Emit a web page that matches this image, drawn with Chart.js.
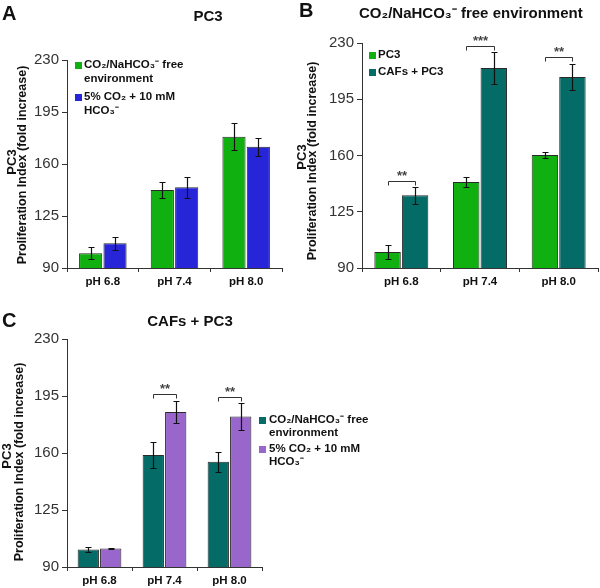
<!DOCTYPE html>
<html><head><meta charset="utf-8">
<script src="https://cdn.jsdelivr.net/npm/chart.js@4/dist/chart.umd.min.js"></script>
<style>
html,body{margin:0;padding:0;background:#fff}
body{width:600px;height:588px;position:relative;overflow:hidden}
canvas{position:absolute}
</style></head><body>
<canvas id="ca" width="300" height="290" style="left:0;top:0;width:300px;height:290px"></canvas>
<canvas id="cb" width="310" height="290" style="left:290px;top:0;width:310px;height:290px"></canvas>
<canvas id="cc" width="600" height="288" style="left:0;top:300px;width:600px;height:288px"></canvas>
<script>
const categories = ['pH 6.8', 'pH 7.4', 'pH 8.0'];
const yTicks = [90, 125, 160, 195, 230];

// Panel A : PC3
const aFree = [100.0, 142.5, 178.4];
const aFreeErr = [4.0, 5.2, 9.2];
const aCo2 = [106.6, 144.3, 171.6];
const aCo2Err = [4.2, 7.2, 6.0];

// Panel B : CO2/NaHCO3- free environment
const bPc3 = [100.0, 143.5, 160.3];
const bPc3Err = [4.2, 2.9, 2.1];
const bCafs = [135.3, 214.4, 208.8];
const bCafsErr = [5.2, 10.0, 8.1];
const bSigLevel = [144.1, 227.9, 221.3];
const bSigMark = ['**', '***', '**'];

// Panel C : CAFs + PC3
const cFree = [100.7, 158.8, 154.7];
const cFreeErr = [1.5, 8.2, 6.2];
const cCo2 = [101.3, 185.1, 182.4];
const cCo2Err = [0.5, 6.9, 8.2];
const cSigLevel = [null, 196.2, 194.3];
const cSigMark = ['', '**', '**'];

const labelFree = ['CO₂/NaHCO₃⁻ free', 'environment'];
const labelCo2 = ['5% CO₂ + 10 mM', 'HCO₃⁻'];
const labelPc3 = ['PC3'];
const labelCafs = ['CAFs + PC3'];
const yTitle = ['PC3', 'Proliferation Index (fold increase)'];
const titleA = 'PC3', titleB = 'CO₂/NaHCO₃⁻ free environment', titleC = 'CAFs + PC3';

const GREEN = '#10b010', BLUE = '#2626d8', TEAL = '#046b67', PURPLE = '#9966cc', EDGE = '#2a2a2a';
const FONT = "'Liberation Sans', Arial, Helvetica, sans-serif";

const errorBarPlugin = {
  id: 'errorBars',
  afterDatasetsDraw(chart) {
    const ctx = chart.ctx, y = chart.scales.y;
    chart.data.datasets.forEach((ds, i) => {
      const meta = chart.getDatasetMeta(i);
      meta.data.forEach((bar, j) => {
        const v = ds.data[j], e = ds.errors[j];
        const x = Math.round(bar.x) + 0.5;
        const yt = Math.round(y.getPixelForValue(v + e)) + 0.5;
        const yb = Math.round(y.getPixelForValue(v - e)) + 0.5;
        ctx.save();
        ctx.strokeStyle = '#111'; ctx.lineWidth = 1.2;
        ctx.beginPath();
        ctx.moveTo(x, yt); ctx.lineTo(x, yb);
        ctx.moveTo(x - 3, yt); ctx.lineTo(x + 3, yt);
        ctx.moveTo(x - 3, yb); ctx.lineTo(x + 3, yb);
        ctx.stroke();
        ctx.restore();
      });
    });
  }
};

const sigPlugin = {
  id: 'sig',
  afterDatasetsDraw(chart, args, o) {
    if (!o.levels) return;
    const ctx = chart.ctx, y = chart.scales.y;
    const m0 = chart.getDatasetMeta(0), m1 = chart.getDatasetMeta(1);
    o.levels.forEach((lv, j) => {
      if (lv == null || !o.marks[j]) return;
      const x0 = Math.round(m0.data[j].x) + 0.5, x1 = Math.round(m1.data[j].x) + 0.5;
      const py = Math.round(y.getPixelForValue(lv)) + 0.5;
      ctx.save();
      ctx.strokeStyle = '#333'; ctx.lineWidth = 1;
      ctx.beginPath();
      ctx.moveTo(x0, py + 4); ctx.lineTo(x0, py); ctx.lineTo(x1, py); ctx.lineTo(x1, py + 4);
      ctx.stroke();
      ctx.fillStyle = '#444'; ctx.font = 'bold 13px ' + FONT;
      ctx.textAlign = 'center'; ctx.textBaseline = 'alphabetic';
      ctx.fillText(o.marks[j], (x0 + x1) / 2, py - 2);
      ctx.restore();
    });
  }
};

const legendPlugin = {
  id: 'boxLegend',
  afterDraw(chart, args, o) {
    if (!o.firstY) return;
    const ctx = chart.ctx;
    chart.data.datasets.forEach((ds, i) => {
      const y0 = o.firstY[i] - o.oy;
      ctx.save();
      ctx.fillStyle = ds.backgroundColor;
      ctx.fillRect(o.boxX - o.ox, Math.round(y0 - o.box / 2), o.box, o.box);
      ctx.font = 'bold 11.5px ' + FONT; ctx.fillStyle = '#111';
      ctx.textBaseline = 'middle'; ctx.textAlign = 'left';
      ds.lines.forEach((ln, k) => ctx.fillText(ln, o.textX - o.ox, y0 + k * o.lineGap));
      ctx.restore();
    });
  }
};

const textPlugin = {
  id: 'texts',
  afterDraw(chart, args, o) {
    if (!o.items) return;
    const ctx = chart.ctx;
    o.items.forEach(t => {
      ctx.save();
      ctx.font = t.font; ctx.fillStyle = t.color || '#111';
      ctx.textAlign = t.align || 'left'; ctx.textBaseline = t.baseline || 'alphabetic';
      ctx.translate(t.x - o.ox, t.y - o.oy);
      if (t.rotate) ctx.rotate(t.rotate);
      ctx.fillText(t.text, 0, 0);
      ctx.restore();
    });
  }
};

Chart.register(errorBarPlugin, sigPlugin, legendPlugin, textPlugin);

function makeChart(id, ox, oy, s) {
  return new Chart(document.getElementById(id), {
    type: 'bar',
    data: {
      labels: categories,
      datasets: [
        { label: s.lab0.join(' '), lines: s.lab0, data: s.d0, errors: s.e0, backgroundColor: s.c0,
          borderColor: EDGE, borderWidth: 1, categoryPercentage: s.cat, barPercentage: s.bar },
        { label: s.lab1.join(' '), lines: s.lab1, data: s.d1, errors: s.e1, backgroundColor: s.c1,
          borderColor: EDGE, borderWidth: 1, categoryPercentage: s.cat, barPercentage: s.bar }
      ]
    },
    options: {
      responsive: false, animation: false, devicePixelRatio: 1,
      layout: { padding: { top: s.padTop, right: s.padRight, left: 0, bottom: 0 } },
      scales: {
        x: {
          afterFit: sc => { sc.height = s.xH; },
          grid: { display: true, drawOnChartArea: false, drawTicks: true, tickLength: 4, color: '#333', offset: true },
          border: { display: true, color: '#333', width: 1 },
          ticks: { padding: 3, color: '#111', font: { family: FONT, size: 11.5, weight: 'bold' } }
        },
        y: {
          min: 90, max: 230,
          afterFit: sc => { sc.width = s.yW; },
          afterBuildTicks: sc => { sc.ticks = yTicks.map(v => ({ value: v })); },
          grid: { display: true, drawOnChartArea: false, drawTicks: true, tickLength: 5, color: '#333' },
          border: { display: true, color: '#333', width: 1 },
          ticks: { padding: 3, color: '#333', font: { family: FONT, size: 15 } }
        }
      },
      plugins: {
        legend: { display: false }, tooltip: { enabled: false }, title: { display: false },
        sig: s.sig ? { levels: s.sig.levels, marks: s.sig.marks } : {},
        boxLegend: Object.assign({ ox: ox, oy: oy, box: 7 }, s.legend),
        texts: { ox: ox, oy: oy, items: s.texts }
      }
    }
  });
}

const R = -Math.PI / 2;
makeChart('ca', 0, 0, {
  d0: aFree, e0: aFreeErr, d1: aCo2, e1: aCo2Err, c0: GREEN, c1: BLUE, lab0: labelFree, lab1: labelCo2,
  cat: 0.68, bar: 0.95, padTop: 60, padRight: 18, xH: 22, yW: 67,
  legend: { boxX: 75, textX: 84, firstY: [65, 97], lineGap: 14 },
  texts: [
    { text: 'A', x: 2, y: 20, font: 'bold 20px ' + FONT },
    { text: titleA, x: 208, y: 21, font: 'bold 15px ' + FONT, align: 'center' },
    { text: yTitle[0], x: 12.5, y: 162, font: 'bold 13px ' + FONT, align: 'center', baseline: 'middle', rotate: R },
    { text: yTitle[1], x: 23, y: 165, font: 'bold 12.5px ' + FONT, align: 'center', baseline: 'middle', rotate: R }
  ]
});
makeChart('cb', 290, 0, {
  d0: bPc3, e0: bPc3Err, d1: bCafs, e1: bCafsErr, c0: GREEN, c1: TEAL, lab0: labelPc3, lab1: labelCafs,
  cat: 0.70, bar: 0.96, padTop: 43, padRight: 2, xH: 22, yW: 72,
  sig: { levels: bSigLevel, marks: bSigMark },
  legend: { boxX: 369, textX: 378, firstY: [55, 72], lineGap: 14 },
  texts: [
    { text: 'B', x: 299, y: 17, font: 'bold 20px ' + FONT },
    { text: titleB, x: 359, y: 18, font: 'bold 15px ' + FONT, align: 'left' },
    { text: yTitle[0], x: 302.5, y: 157, font: 'bold 13px ' + FONT, align: 'center', baseline: 'middle', rotate: R },
    { text: yTitle[1], x: 313, y: 161, font: 'bold 12.5px ' + FONT, align: 'center', baseline: 'middle', rotate: R }
  ]
});
makeChart('cc', 0, 300, {
  d0: cFree, e0: cFreeErr, d1: cCo2, e1: cCo2Err, c0: TEAL, c1: PURPLE, lab0: labelFree, lab1: labelCo2,
  cat: 0.69, bar: 0.95, padTop: 39, padRight: 338, xH: 21, yW: 67,
  sig: { levels: cSigLevel, marks: cSigMark },
  legend: { boxX: 259, textX: 269, firstY: [420, 449], lineGap: 13 },
  texts: [
    { text: 'C', x: 2, y: 327, font: 'bold 20px ' + FONT },
    { text: titleC, x: 190, y: 326, font: 'bold 15px ' + FONT, align: 'center' },
    { text: yTitle[0], x: 7.5, y: 456, font: 'bold 13px ' + FONT, align: 'center', baseline: 'middle', rotate: R },
    { text: yTitle[1], x: 20, y: 462, font: 'bold 12.5px ' + FONT, align: 'center', baseline: 'middle', rotate: R }
  ]
});
</script>
</body></html>
